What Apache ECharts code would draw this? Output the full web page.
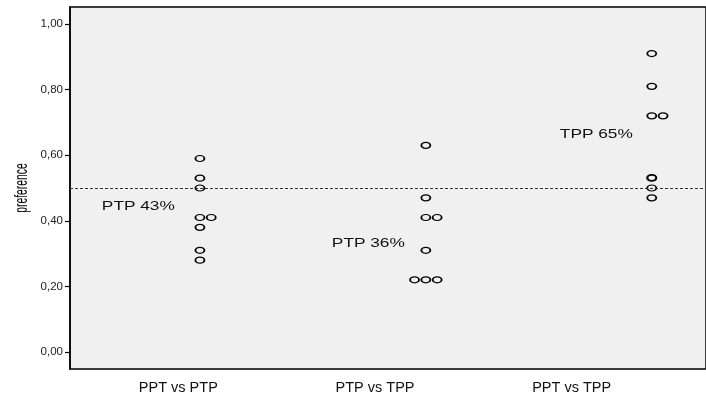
<!DOCTYPE html>
<html>
<head>
<meta charset="utf-8">
<script src="https://cdn.jsdelivr.net/npm/echarts@6/dist/echarts.min.js"></script>
<style>html,body{margin:0;padding:0;background:#fff}#c{width:706px;height:396px}</style>
</head>
<body>
<div id="c"></div>
<script>
// ---- data ----
var categories = ['PPT vs PTP', 'PTP vs TPP', 'PPT vs TPP'];
var prefPPTvsPTP = [0.59, 0.53, 0.50, 0.41, 0.41, 0.38, 0.31, 0.28];
var prefPTPvsTPP = [0.63, 0.47, 0.41, 0.41, 0.31, 0.22, 0.22, 0.22];
var prefPPTvsTPP = [0.91, 0.81, 0.72, 0.72, 0.532, 0.53, 0.50, 0.47];
var annotationTexts = ['PTP 43%', 'PTP 36%', 'TPP 65%'];
var annotationX = [0.566, 1.584, 2.593];
var annotationY = [0.443, 0.332, 0.665];
var yTickValues = [0, 0.2, 0.4, 0.6, 0.8, 1.0];
var referenceLine = 0.5;
var axisName = 'preference';

// dot-plot stacking: equal values side by side
function dotPoints(values, catIndex) {
  var counts = {}, seen = {};
  values.forEach(function (v) { counts[v] = (counts[v] || 0) + 1; });
  return values.map(function (v) {
    var n = counts[v];
    var k = seen[v] = (seen[v] === undefined ? 0 : seen[v] + 1);
    var col = n >= 3 ? k - Math.floor(n / 2) : k;
    return [catIndex + 1 + col * 0.05, v];
  });
}
var allGroups = [prefPPTvsPTP, prefPTPvsTPP, prefPPTvsTPP];
var points = [];
allGroups.forEach(function (g, i) { points = points.concat(dotPoints(g, i)); });

var annData = annotationTexts.map(function (t, i) { return [annotationX[i], annotationY[i], t]; });

var chart = echarts.init(document.getElementById('c'), null, {renderer: 'canvas'});
chart.setOption({
  animation: false,
  backgroundColor: '#ffffff',
  grid: [
    {left: 70, top: 7, right: -1, bottom: 27, show: true, backgroundColor: '#f0f0f0',
     borderColor: '#000', borderWidth: 1.5, containLabel: false},
    {left: 80, width: 590, top: 7, bottom: 27, show: false}
  ],
  xAxis: [
    {type: 'value', gridIndex: 0, min: 0.425, max: 3.24,
     axisLine: {show: false}, axisTick: {show: false}, axisLabel: {show: false}, splitLine: {show: false}},
    {type: 'category', gridIndex: 1, data: categories, boundaryGap: true,
     axisLine: {show: false}, axisTick: {show: false}, splitLine: {show: false},
     axisLabel: {margin: 11, color: '#111', fontFamily: 'Liberation Sans', fontSize: 14.5}}
  ],
  yAxis: [
    {type: 'value', gridIndex: 0, min: -0.052, max: 1.052,
     axisLine: {show: true, lineStyle: {color: '#000', width: 1.5}},
     axisTick: {show: true, length: 5, customValues: yTickValues, lineStyle: {color: '#000', width: 1.2}},
     axisLabel: {show: true, customValues: yTickValues, margin: 7, color: '#222',
       fontFamily: 'Liberation Sans', fontSize: 11.5,
       formatter: function (v) { return v.toFixed(2).replace('.', ','); }},
     splitLine: {show: false}},
    {type: 'value', gridIndex: 1, show: false}
  ],
  series: [
    {type: 'scatter', xAxisIndex: 0, yAxisIndex: 0, data: points,
     symbol: 'circle', symbolSize: [9, 6],
     itemStyle: {color: 'rgba(0,0,0,0)', borderColor: '#000', borderWidth: 1.5, opacity: 1},
     markLine: {silent: true, symbol: 'none', label: {show: false},
       lineStyle: {color: '#333', type: [3, 2], width: 1},
       data: [{yAxis: referenceLine}]},
     z: 3},
    {type: 'custom', xAxisIndex: 0, yAxisIndex: 0, data: annData,
     renderItem: function (params, api) {
       var p = api.coord([api.value(0), api.value(1)]);
       return {type: 'text', x: p[0], y: p[1], scaleX: 1.28,
         style: {text: annData[params.dataIndex][2], fontSize: 13.5, fontFamily: 'Liberation Sans',
                 fill: '#111', align: 'left', verticalAlign: 'middle'}};
     },
     z: 4}
  ],
  graphic: [
    {type: 'text', x: 22, y: 188, rotation: Math.PI / 2, scaleX: 0.56, scaleY: 1,
     style: {text: axisName, fontSize: 18.5, fontFamily: 'Liberation Sans', fill: '#000',
             align: 'center', verticalAlign: 'middle'}}
  ]
});
</script>
</body>
</html>
